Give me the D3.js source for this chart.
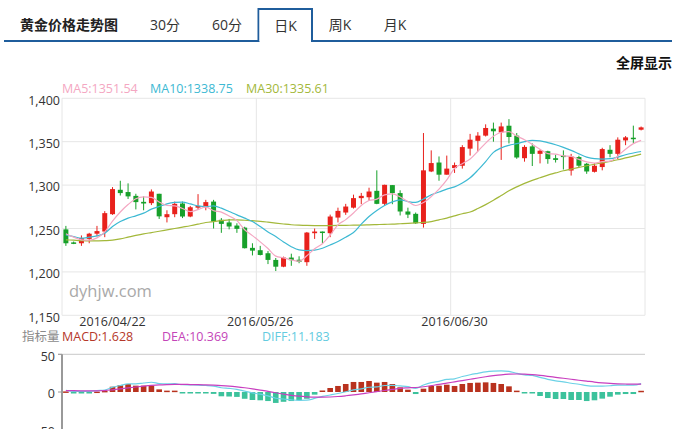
<!DOCTYPE html>
<html><head><meta charset="utf-8">
<script src="https://cdn.jsdelivr.net/npm/d3@7"></script>
<style>
body{margin:0;background:#fff;}
svg{display:block;font-family:"Open Sans","Noto Sans CJK SC",sans-serif;}
</style></head>
<body><svg id="c" width="685" height="429"></svg>
<script>
// ---- data ----
const tabs = ["30分","60分","日K","周K","月K"];
const tickLabels = ["2016/04/22","2016/05/26","2016/06/30"];
const tickIndex = [6, 25, 50];
const gridIndex = [25, 50];
const priceTicks = [1150,1200,1250,1300,1350,1400];
const macdTicks = [-50,0,50];

const open  = [1249,1234,1233,1238,1244,1246.5,1266.5,1294.6,1292,1287.6,1280.7,1279.2,1290,1263,1266.5,1278.8,1263.8,1274,1274.2,1281,1260,1257,1253.4,1251,1227.7,1225,1221.5,1213.8,1206,1216.5,1214,1211.2,1244.6,1246.5,1244.6,1262.6,1268.4,1274,1285,1286,1293.4,1278.4,1300,1290.8,1269.6,1266.9,1255.3,1315.7,1326,1312,1319.6,1322.3,1342,1351,1357,1365,1360.7,1368.4,1357,1331,1344.6,1336,1339,1331,1334,1316.8,1332.3,1324.6,1315.3,1320.8,1340.7,1336,1351.5,1354.6,1363.8];
const high  = [1253,1235,1242,1245,1253,1270,1297.7,1305,1302,1290,1287,1295,1290,1271,1281,1281,1276,1289.6,1283,1283,1262,1261,1256,1252,1233,1230,1224,1216,1217.6,1221,1218,1246,1250,1246.5,1266,1274,1278.4,1289,1291,1297,1317,1300.5,1300,1294,1274,1268.4,1360,1340,1333,1334,1326,1346,1359,1361,1370,1372,1372,1376,1360,1346,1348,1341,1339.6,1335,1340,1336,1333.8,1325.5,1325.4,1343,1346,1355,1356.5,1368.5,1367.5];
const low   = [1230,1232,1230,1233,1241,1240,1265.7,1288,1284,1272,1271,1277,1261,1257,1263,1262,1263,1271.5,1271,1250,1245,1249,1245,1227,1219,1219,1209,1201,1205.4,1207,1210,1207,1238,1233,1240,1257,1265.7,1273,1278,1282,1278,1276,1278,1265,1262,1255.3,1251,1315,1305,1312,1314,1319,1334,1339,1356,1350,1329,1348,1330.3,1327,1322,1325,1324.6,1326,1318,1311,1320.8,1313,1314.5,1317,1332,1330,1346,1348.5,1363];
const close = [1233,1233,1239,1244,1247,1267.7,1295.4,1290.8,1287,1280.4,1278.8,1292.6,1264,1266.5,1278.4,1263.8,1274.5,1276,1280.4,1258,1255.3,1252.3,1249.6,1227.3,1224.5,1219.5,1213.8,1206,1216.5,1213.5,1211.5,1245.3,1246.5,1245,1263.8,1270.3,1275.3,1285,1287.6,1292.6,1278.4,1300.3,1290.8,1269.6,1266,1256,1317,1325.4,1312,1319,1323,1343.8,1352.3,1357,1365.8,1362,1367.6,1355.4,1331.8,1344,1336,1339.6,1330,1329,1333.5,1333,1322.3,1315.7,1322.3,1341.5,1336,1352.3,1355,1354.2,1366.5];

const ma5  = [1244,1240,1237,1236.5,1239.2,1246.1,1258.6,1269,1277.6,1284.3,1286.5,1285.9,1280.6,1276.5,1276.1,1273.1,1269.4,1271.8,1274.6,1270.5,1268.8,1264.4,1259.1,1248.5,1241.8,1234.6,1226.9,1218.2,1216.1,1213.9,1212.3,1218.6,1226.7,1232.4,1242.4,1254.2,1260.2,1267.9,1276.4,1282.2,1283.8,1288.8,1289.9,1286.3,1281,1276.5,1279.9,1286.8,1295.3,1305.9,1319.3,1324.6,1330,1339,1348.4,1356.2,1360.9,1361.6,1356.5,1352.2,1347,1341.4,1336.3,1335.7,1333.6,1333,1329.6,1326.7,1325.4,1327,1327.6,1333.6,1341.4,1347.8,1351.54];
const ma10 = [1242.6,1240.7,1238.8,1240,1241.5,1244.6,1252.3,1258,1262,1264.6,1267.7,1272.3,1275.3,1278.4,1280,1280.4,1278.4,1276,1275.3,1276,1273.4,1269.6,1265.7,1262,1258,1252.3,1246,1240.7,1234.5,1229,1225.3,1224.5,1225,1227.3,1231,1235,1240,1245.3,1255,1263.8,1270.7,1276.5,1280.7,1283,1281,1280,1284,1288.8,1292,1295.4,1297.9,1302.3,1308.4,1317.2,1327.1,1337.7,1342.8,1345.8,1347.8,1350,1351.5,1351,1349,1346.5,1343.4,1340,1336,1332.3,1330.4,1330,1330.4,1332.3,1335,1337,1338.75];
const ma30 = [1237,1236.5,1236,1235.7,1235.8,1236,1236.5,1238,1240,1242,1243.8,1245.3,1246.8,1248.4,1250,1251.6,1253.2,1255,1256.9,1258,1259,1260,1260,1259.5,1259,1258.3,1257.3,1256.2,1255.2,1254.3,1253.8,1253.5,1253.4,1253.4,1253.4,1253.5,1253.7,1253.8,1254,1254.2,1254.5,1254.8,1255,1255.5,1256,1256.5,1257,1258,1260,1262,1264.5,1267,1269,1273,1277.5,1282.5,1288,1293.5,1298,1302,1305.5,1308.5,1311.5,1314,1316.5,1318.5,1320.5,1322.3,1324,1325.7,1327.4,1329.2,1331.3,1333.4,1335.61];

const macd = [0.8,-1.5,-1.5,-1.5,0.6,1.5,7,9,10.6,8.4,8.4,8.4,3.5,1.8,1.8,-1,-1,-1,-1.5,-2.5,-5.7,-6,-6.5,-9,-10.6,-11,-12,-14.5,-13,-12,-11,-9,-3.5,2,5.3,8,10.6,13.3,13.3,14.6,12.4,13.3,10.6,6.2,3.1,-2.7,4.4,8,8.4,9.7,8,10.6,12,12.4,12.8,12,10.6,7.5,1.8,-1.8,-2,-5.3,-8,-9.3,-9.3,-10.6,-10.6,-12,-11,-8.8,-6.2,-3.5,-2.7,-2.7,1.628];
const dea  = [1.8,1.7,1.6,1.5,1.6,1.9,2.9,4.1,5.4,6.6,7.7,8.7,9.5,9.9,10.1,10.1,9.9,9.7,9.4,9.0,8.5,7.8,6.8,5.6,4.2,2.6,0.8,-1.0,-2.8,-4.4,-5.6,-6.4,-6.8,-6.8,-6.6,-6.0,-5.0,-3.8,-2.5,-1.0,0.5,2.0,3.5,4.9,5.5,6.0,7.0,8.5,10.0,11.8,13.5,15.2,16.9,18.6,20.2,21.6,22.8,23.6,23.9,23.7,23.0,22.0,20.8,19.5,18.2,16.9,15.6,14.4,13.2,12.2,11.4,10.9,10.6,10.4,10.369];
const diff = [2.2,0.95,0.85,0.75,1.9,2.65,6.4,8.6,10.7,10.8,11.9,12.9,11.25,10.8,11.0,9.6,9.4,9.2,8.65,7.75,5.65,4.8,3.55,1.1,-1.1,-2.9,-5.2,-8.25,-9.3,-10.4,-11.1,-10.9,-8.55,-5.8,-3.95,-2.0,0.3,2.85,4.15,6.3,6.7,8.65,8.8,8.0,7.05,4.65,9.2,12.5,14.2,16.65,17.5,20.5,22.9,24.8,26.6,27.6,28.1,27.35,24.8,22.8,22.0,19.35,16.8,14.85,13.55,11.6,10.3,8.4,7.7,7.8,8.3,9.15,9.25,9.05,11.183];

// ---- chart ----
const svg = d3.select("#c");
const C = {up:"#e8211c", down:"#17a02a", ma5:"#f4a7c2", ma10:"#3db9d3", ma30:"#a3b83a",
           macdUp:"#b8321e", macdDn:"#3cc29c", dea:"#c83fbf", diff:"#6cd2e6", grid:"#e6e6e6", text:"#333"};

// header
svg.append("text").attr("x",20).attr("y",30).attr("font-size",14).attr("font-weight","bold")
  .attr("fill","#222").text("黄金价格走势图");
const tabX = [165, 227, 285.5, 340, 395];
svg.append("line").attr("x1",4).attr("x2",672).attr("y1",41).attr("y2",41)
  .attr("stroke","#1f5d9c").attr("stroke-width",2);
svg.append("path").attr("d","M258.5,41V9H312V41").attr("fill","#fff")
  .attr("stroke","#1f5d9c").attr("stroke-width",2);
svg.append("rect").attr("x",259.5).attr("y",10).attr("width",51.5).attr("height",32).attr("fill","#fff");
svg.selectAll(".tab").data(tabs).enter().append("text")
  .attr("x",(d,i)=>tabX[i]).attr("y",(d,i)=> i===2 ? 31 : 30).attr("text-anchor","middle")
  .attr("font-size",14).attr("fill",C.text).text(d=>d);
svg.append("text").attr("x",672).attr("y",68).attr("text-anchor","end").attr("font-size",14)
  .attr("font-weight","bold").attr("fill","#111").text("全屏显示");

const n = close.length;
const x = d3.scaleBand().domain(d3.range(n)).range([62,645]).paddingInner(0.36).paddingOuter(0.18);
const cx = i => x(i) + x.bandwidth()/2;
const y = d3.scaleLinear().domain([1150,1400]).range([315.3,98.3]);

// grid
const g = svg.append("g");
g.selectAll(".hg").data(priceTicks).enter().append("line")
  .attr("x1",62).attr("x2",645).attr("y1",d=>y(d)).attr("y2",d=>y(d))
  .attr("stroke",C.grid).attr("stroke-width",1);
g.selectAll(".vg").data([0].concat(gridIndex)).enter().append("line")
  .attr("x1",d=>cx(d)-x.step()/2).attr("x2",d=>cx(d)-x.step()/2)
  .attr("y1",y(1400)).attr("y2",y(1150)).attr("stroke",C.grid);
g.append("line").attr("x1",645).attr("x2",645).attr("y1",y(1400)).attr("y2",y(1150)).attr("stroke",C.grid);

// y axis labels
svg.selectAll(".yl").data(priceTicks).enter().append("text")
  .attr("x",60).attr("y",d=>y(d)).attr("dy","0.5em").attr("text-anchor","end")
  .attr("font-size",12.5).attr("fill",C.text).text(d=>d3.format(",")(d));

// x labels
svg.selectAll(".xl").data(tickIndex).enter().append("text")
  .attr("x",d=>cx(d)).attr("y",326).attr("text-anchor","middle")
  .attr("font-size",12.5).attr("fill",C.text).text((d,i)=>tickLabels[i]);

// watermark
svg.append("text").attr("x",69).attr("y",297).attr("font-size",16.5).attr("fill","#a9a9a9").text("dyhjw.com");

// candles
const cg = svg.append("g");
d3.range(n).forEach(i=>{
  const up = close[i] >= open[i];
  const col = up ? C.up : C.down;
  cg.append("line").attr("x1",cx(i)).attr("x2",cx(i)).attr("y1",y(high[i])).attr("y2",y(low[i]))
    .attr("stroke",col).attr("stroke-width",1);
  const top = y(Math.max(open[i],close[i])), bot = y(Math.min(open[i],close[i]));
  cg.append("rect").attr("x",x(i)).attr("width",x.bandwidth())
    .attr("y",top).attr("height",Math.max(1.5,bot-top)).attr("fill",col);
});

// MA lines
const line = d3.line().x((d,i)=>cx(i)).y(d=>y(d)).curve(d3.curveMonotoneX);
[[ma30,C.ma30],[ma10,C.ma10],[ma5,C.ma5]].forEach(([arr,col])=>{
  svg.append("path").datum(arr).attr("d",line).attr("fill","none").attr("stroke",col).attr("stroke-width",1.2);
});

// MA legend
const legend = [["MA5:1351.54",C.ma5,62],["MA10:1338.75",C.ma10,150],["MA30:1335.61",C.ma30,246]];
legend.forEach(([t,col,lx])=>svg.append("text").attr("x",lx).attr("y",92.5).attr("font-size",12.5).attr("fill",col).text(t));

// MACD panel
const ym = d3.scaleLinear().domain([-50,50]).range([429.7,354.3]);
const mleg = [["指标量","#8a8a8a",22],["MACD:1.628","#b5382a",62],["DEA:10.369","#c445b8",162],["DIFF:11.183","#63cbe0",262]];
mleg.forEach(([t,col,lx])=>svg.append("text").attr("x",lx).attr("y",341).attr("font-size",12.5).attr("fill",col).text(t));

svg.append("line").attr("x1",58).attr("x2",645).attr("y1",ym(50)).attr("y2",ym(50)).attr("stroke","#c8c8c8");
svg.append("line").attr("x1",62).attr("x2",62).attr("y1",ym(50)).attr("y2",429).attr("stroke","#999").attr("stroke-width",2);
svg.selectAll(".mt").data(macdTicks).enter().append("line")
  .attr("x1",58).attr("x2",62).attr("y1",d=>ym(d)).attr("y2",d=>ym(d)).attr("stroke","#999");
svg.selectAll(".ml").data(macdTicks).enter().append("text")
  .attr("x",55).attr("y",d=>ym(d)).attr("dy","0.5em").attr("text-anchor","end")
  .attr("font-size",12.5).attr("fill",C.text).text(d=>d);

const bw = 5.6;
svg.append("g").selectAll("rect").data(macd).enter().append("rect")
  .attr("x",(d,i)=>cx(i)-bw/2).attr("width",bw)
  .attr("y",d=>d>=0 ? ym(d) : ym(0)).attr("height",d=>Math.max(1.5,Math.abs(ym(d)-ym(0))))
  .attr("fill",d=>d>=0 ? C.macdUp : C.macdDn);

const mline = d3.line().x((d,i)=>cx(i)).y(d=>ym(d)).curve(d3.curveMonotoneX);
svg.append("path").datum(diff).attr("d",mline).attr("fill","none").attr("stroke",C.diff).attr("stroke-width",1.2);
svg.append("path").datum(dea).attr("d",mline).attr("fill","none").attr("stroke",C.dea).attr("stroke-width",1.2);
</script>
</body></html>
